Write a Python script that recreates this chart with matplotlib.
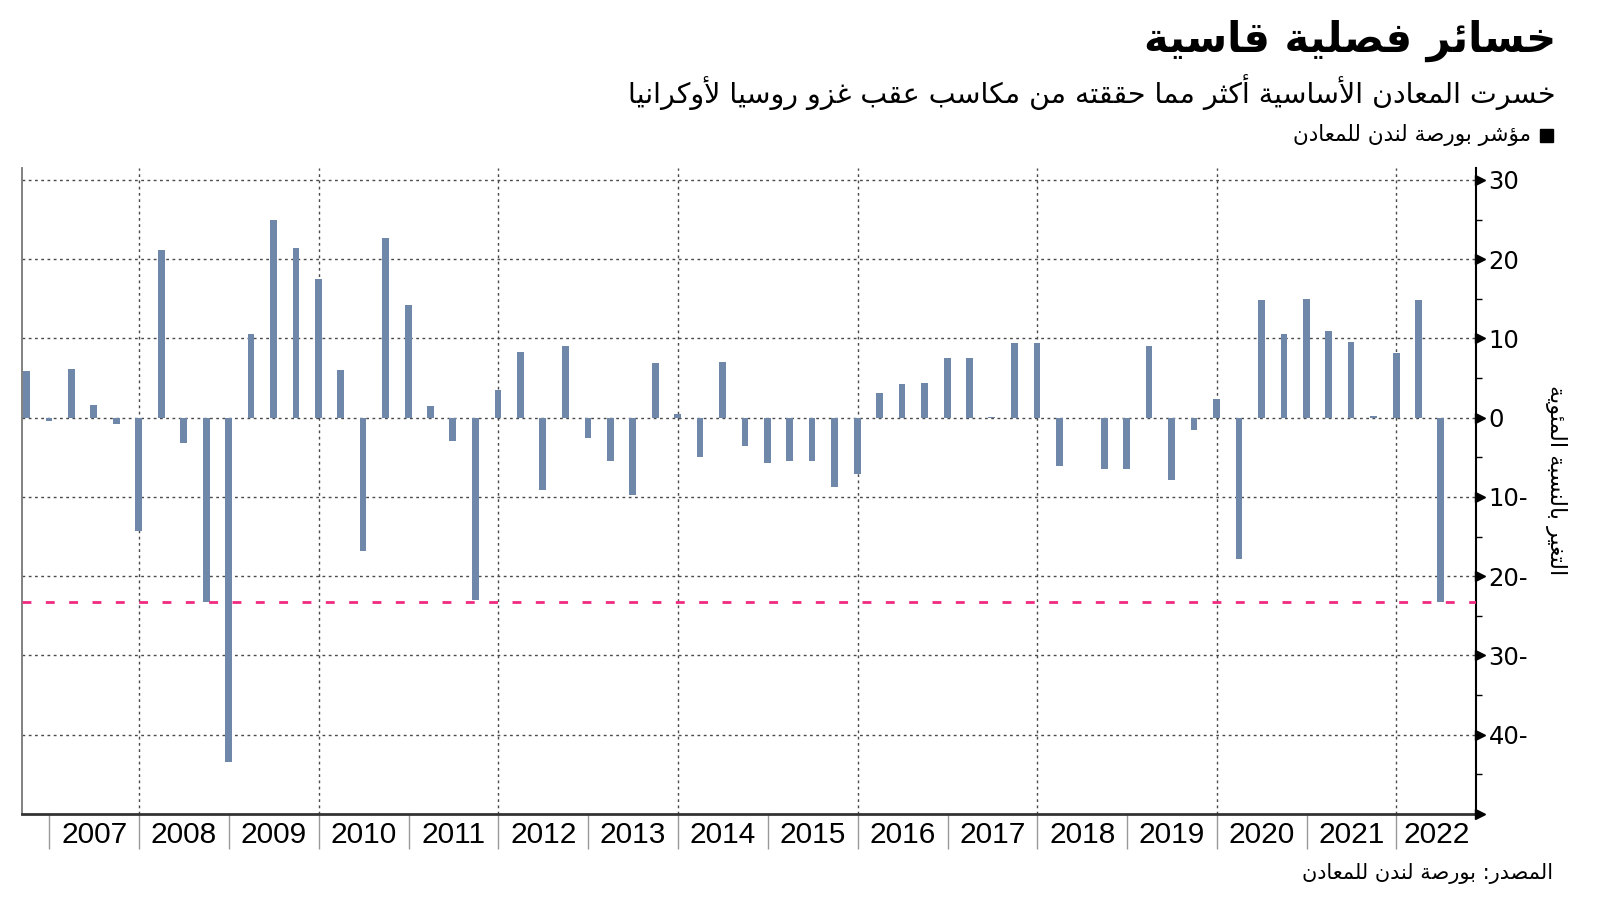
#!/usr/bin/env python3
"""Quarterly change of the LME base metals index, 2006Q3 - 2022Q2."""

import matplotlib
matplotlib.use("Agg")
import matplotlib.dates as mdates
import matplotlib.pyplot as plt
import matplotlib.transforms as mtransforms
import pandas as pd
from matplotlib.patches import Rectangle

# quarterly % change, from 2006Q3 to 2022Q2
first_quarter = "2006Q3"
last_quarter = "2022Q2"
quarter_change = [
    5.9, -0.45, 6.2, 1.6, -0.75, -14.3, 21.2, -3.2, -23.3, -43.4,
    10.6, 25.0, 21.4, 17.5, 6.05, -16.8, 22.7, 14.2, 1.5, -2.9,
    -23.0, 3.5, 8.3, -9.1, 9.1, -2.6, -5.5, -9.8, 6.85, 0.45,
    -5.0, 7.0, -3.6, -5.7, -5.5, -5.5, -8.8, -7.1, 3.1, 4.2,
    4.4, 7.5, 7.5, 0.1, 9.45, 9.45, -6.1, -0.1, -6.5, -6.5,
    9.1, -7.8, -1.6, 2.4, -17.8, 14.8, 10.6, 15.0, 10.9, 9.6,
    0.2, 8.15, 14.8, -23.3,
]
label_years = list(range(2007, 2023))
grid_years = list(range(2008, 2023, 2))
y_ticks = list(range(-40, 31, 10))

title = "خسائر فصلية قاسية"
subtitle = "خسرت المعادن الأساسية أكثر مما حققته من مكاسب عقب غزو روسيا لأوكرانيا"
legend_label = "مؤشر بورصة لندن للمعادن"
y_label = "التغير بالنسبة المئوية"
source = "المصدر: بورصة لندن للمعادن"

BAR_COLOR = "#6f87a9"
PINK = "#f02a80"
GRID = "#4a4a4a"

# --- minimal arabic shaping (matplotlib has no complex text layout) ---
FORMS = {
    'ء': (0xFE80, 1), 'آ': (0xFE81, 2), 'أ': (0xFE83, 2), 'ؤ': (0xFE85, 2),
    'إ': (0xFE87, 2), 'ئ': (0xFE89, 4), 'ا': (0xFE8D, 2), 'ب': (0xFE8F, 4),
    'ة': (0xFE93, 2), 'ت': (0xFE95, 4), 'ث': (0xFE99, 4), 'ج': (0xFE9D, 4),
    'ح': (0xFEA1, 4), 'خ': (0xFEA5, 4), 'د': (0xFEA9, 2), 'ذ': (0xFEAB, 2),
    'ر': (0xFEAD, 2), 'ز': (0xFEAF, 2), 'س': (0xFEB1, 4), 'ش': (0xFEB5, 4),
    'ص': (0xFEB9, 4), 'ض': (0xFEBD, 4), 'ط': (0xFEC1, 4), 'ظ': (0xFEC5, 4),
    'ع': (0xFEC9, 4), 'غ': (0xFECD, 4), 'ف': (0xFED1, 4), 'ق': (0xFED5, 4),
    'ك': (0xFED9, 4), 'ل': (0xFEDD, 4), 'م': (0xFEE1, 4), 'ن': (0xFEE5, 4),
    'ه': (0xFEE9, 4), 'و': (0xFEED, 2), 'ى': (0xFEEF, 2), 'ي': (0xFEF1, 4),
}
LAM_ALEF = {'ا': 0xFEFB, 'أ': 0xFEF7, 'إ': 0xFEF9, 'آ': 0xFEF5}


def shape(text):
    units = []
    i = 0
    while i < len(text):
        c = text[i]
        if c == 'ل' and i + 1 < len(text) and text[i + 1] in LAM_ALEF:
            units.append(('LA', text[i + 1]))
            i += 2
        else:
            units.append((c, None))
            i += 1

    out = []
    for k, (c, alef) in enumerate(units):
        prev = units[k - 1][0] if k > 0 else None
        nxt = units[k + 1][0] if k + 1 < len(units) else None
        joins_prev = prev in FORMS and FORMS[prev][1] == 4
        if c == 'LA':
            out.append(chr(LAM_ALEF[alef] + (1 if joins_prev else 0)))
        elif c in FORMS:
            base, n = FORMS[c]
            joins_next = n == 4 and (nxt in FORMS or nxt == 'LA')
            if n == 4:
                if joins_prev and joins_next:
                    code = base + 3
                elif joins_next:
                    code = base + 2
                elif joins_prev:
                    code = base + 1
                else:
                    code = base
            elif n == 2:
                code = base + 1 if joins_prev else base
            else:
                code = base
            out.append(chr(code))
        else:
            out.append(c)
    return ''.join(out)[::-1]


AR_FONT = ['DejaVu Sans']
YEAR_FONT = ['Liberation Sans Narrow', 'Liberation Sans', 'DejaVu Sans']

quarters = pd.period_range(first_quarter, last_quarter, freq="Q")
dates = quarters.end_time.normalize()
x = mdates.date2num(dates)
q_days = 91.3

fig = plt.figure(figsize=(16, 9.01), dpi=100)
ax = fig.add_axes([0.014, 0.0966, 0.9085, 0.7169])

x_min = x[0] - 0.18 * q_days
x_max = x[-1] + 1.57 * q_days
ax.set_xlim(x_min, x_max)
ax.set_ylim(-50, 31.5)

# gridlines
for y in y_ticks:
    ax.axhline(y, color=GRID, lw=1, ls=(0, (2, 2.5)), zorder=1)
for yr in grid_years:
    ax.axvline(mdates.date2num(pd.Timestamp(f"{yr}-01-01")), color=GRID,
               lw=1, ls=(0, (2, 2.5)), zorder=1)

ax.bar(x, quarter_change, width=0.3 * q_days, color=BAR_COLOR, zorder=3)
ax.axhline(quarter_change[-1], color=PINK, lw=2, ls=(0, (3.2, 5.2)), zorder=4)

# spines
ax.spines['top'].set_visible(False)
ax.spines['left'].set_color('#777777')
ax.spines['left'].set_linewidth(1.3)
ax.spines['bottom'].set_color('#333333')
ax.spines['bottom'].set_linewidth(2)
ax.spines['right'].set_color('black')
ax.spines['right'].set_linewidth(1.5)

# right y axis
ax.yaxis.tick_right()
ax.set_yticks(y_ticks)
ax.set_yticklabels([f"{abs(v)}-" if v < 0 else str(v) for v in y_ticks])
ax.set_yticks([v + 5 for v in range(-50, 30, 10)], minor=True)
ax.tick_params(axis='y', which='major', length=0, pad=9, labelsize=17.5)
ax.tick_params(axis='y', which='minor', direction='out', length=4, width=1,
               color='black')
tri = mtransforms.offset_copy(ax.get_yaxis_transform(), fig=fig, x=4, y=0,
                              units='dots')
ax.plot([1] * len(y_ticks), y_ticks, ls='none', marker='>', ms=7,
        color='black', transform=tri, clip_on=False, zorder=5)
end_tri = mtransforms.offset_copy(ax.transAxes, fig=fig, x=4, y=0, units='dots')
ax.plot([1], [0], ls='none', marker='>', ms=7, color='black',
        transform=end_tri, clip_on=False, zorder=5)

# x axis: separators at year starts, year labels centred in between
starts = [mdates.date2num(pd.Timestamp(f"{yr}-01-01")) for yr in label_years]
ends = starts[1:] + [x_max]
centres = [(a + b) / 2 for a, b in zip(starts, ends)]
ax.set_xticks(starts, minor=True)
ax.set_xticks(centres)
ax.set_xticklabels([str(yr) for yr in label_years], family=YEAR_FONT,
                   fontsize=21.5)
ax.tick_params(axis='x', which='major', length=0, pad=5)
ax.tick_params(axis='x', which='minor', length=25, width=1, color='#999999')

fig.text(1556 / 1600, 1 - 480 / 901, shape(y_label), rotation=270,
         family=AR_FONT, fontsize=16, ha='center', va='center')

# header / footer
fig.text(1556 / 1600, 1 - 41 / 901, shape(title), family=AR_FONT,
         fontsize=30, fontweight='bold', ha='right', va='center')
fig.text(1556 / 1600, 1 - 92 / 901, shape(subtitle), family=AR_FONT,
         fontsize=20.5, ha='right', va='center')
fig.add_artist(Rectangle((1540 / 1600, 1 - 142 / 901), 13 / 1600, 13 / 901,
                         transform=fig.transFigure, color='black'))
fig.text(1531 / 1600, 1 - 135 / 901, shape(legend_label), family=AR_FONT,
         fontsize=15.5, ha='right', va='center')
fig.text(1553 / 1600, 1 - 874 / 901, shape(source), family=AR_FONT,
         fontsize=15, ha='right', va='center')

fig.savefig("out.png", dpi=100)
